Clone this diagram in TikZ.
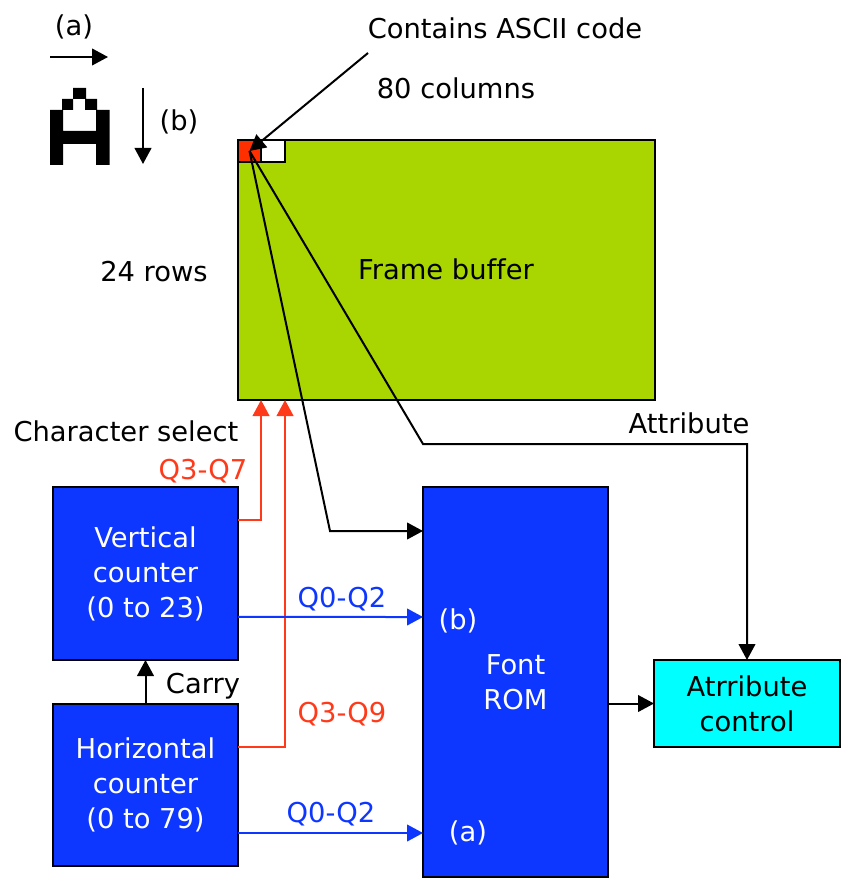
\documentclass[tikz,border=0pt]{standalone}
\usepackage{fontspec}
\setmainfont[Ligatures=NoCommon]{DejaVu Sans}
\usetikzlibrary{arrows.meta}

\definecolor{buffergreen}{HTML}{A9D500}
\definecolor{cellred}{HTML}{FF2F00}
\definecolor{linered}{HTML}{FF3A1A}
\definecolor{boxblue}{HTML}{0D37FF}
\definecolor{attrcyan}{HTML}{00FFFF}

\begin{document}
\begin{tikzpicture}[
    x=0.75pt, y=-0.75pt,
    every node/.style={font=\fontsize{20.5}{26.25}\selectfont, align=center},
    block/.style={draw=black, line width=1.5pt, outer sep=0pt, inner sep=0pt},
    counter/.style={block, fill=boxblue, text=white, minimum width=138.75pt},
    wire/.style={-{Triangle[length=12pt,width=12.5pt]}, line width=1.5pt, black},
    redwire/.style={wire, linered},
    bluewire/.style={wire, boxblue}
]
\useasboundingbox (0,0) rectangle (844,880);

% Glyph
\fill[black, even odd rule] (50,110) -- (62,110) -- (62,99) -- (73,99) -- (73,88) -- (86,88) -- (86,99) -- (97,99) -- (97,110) -- (109.5,110) -- (109.5,165) -- (96,165) -- (96,144) -- (63,144) -- (63,165) -- (50,165) -- cycle
    (63,110) -- (73,110) -- (73,99) -- (85,99) -- (85,110) -- (96,110) -- (96,131) -- (63,131) -- cycle;

% Nodes
\node[block, fill=buffergreen, minimum width=312.75pt, minimum height=195pt] (frame) at (446.5,270) {};
\node[block, fill=cellred, minimum width=17.25pt, minimum height=16.5pt] (cell) at (249.5,151) {};
\node[block, fill=white, minimum width=18pt, minimum height=16.5pt] (nextcell) at (273,151) {};
\node[counter, minimum height=129.75pt] (vcount) at (145.5,573.5) {Vertical\\counter\\(0 to 23)};
\node[counter, minimum height=121.5pt] (hcount) at (145.5,785) {Horizontal\\counter\\(0 to 79)};
\node[counter, minimum height=292.5pt] (rom) at (515.5,682) {Font\\ROM};
\node[block, fill=attrcyan, minimum width=139.5pt, minimum height=65.25pt] (attr) at (747,703.5) {Atrribute\\control};

% Labels
\node (framelabel) at (446,269) {Frame buffer};
\node (alabel) at (74,27) {(a)};
\node (blabel) at (179,122) {(b)};
\node (ascii) at (505,28) {Contains ASCII code};
\node (columns) at (456,88) {80 columns};
\node (rows) at (154,272) {24 rows};
\node (charsel) at (126,431) {Character select};
\node (attrlabel) at (689,423) {Attribute};
\node (carry) at (203,686) {Carry};
\node[text=linered] (qvhigh) at (203,471) {Q3-Q7};
\node[text=linered] (qhhigh) at (342,714) {Q3-Q9};
\node[text=boxblue] (qvlow) at (342,599) {Q0-Q2};
\node[text=boxblue] (qhlow) at (331,814) {Q0-Q2};
\node[text=white] (romb) at (458,621) {(b)};
\node[text=white] (roma) at (468,833) {(a)};

% Free ends and bends
\coordinate (astart) at (50,57);
\coordinate (aend) at (108,57);
\coordinate (bstart) at (143,88);
\coordinate (bend) at (143,164);
\coordinate (asciistart) at (368,53);
\coordinate (fontbend) at (330,531);
\coordinate (attrbend) at (423,444);

% Edges
\draw[wire] (astart) -- (aend);
\draw[wire] (bstart) -- (bend);
\draw[wire] (asciistart) -- (cell.center);
\draw[wire] (cell.center) -- (fontbend) -- ([yshift=113.25pt]rom.west);
\draw[wire] (cell.center) -- (attrbend) -| (attr.north);
\draw[wire] (hcount.north) -- (hcount.north |- vcount.south);
\draw[wire] (rom.east |- attr.west) -- (attr.west);
\draw[redwire] ([yshift=40.1pt]vcount.east) -| ([xshift=-139.1pt]frame.south);
\draw[redwire] ([yshift=28.5pt]hcount.east) -| ([xshift=-121.1pt]frame.south);
\draw[bluewire] ([yshift=-32.6pt]vcount.east) -- ([yshift=48.75pt]rom.west);
\draw[bluewire] ([yshift=-36pt]hcount.east) -- ([yshift=-113.25pt]rom.west);

\end{tikzpicture}
\end{document}
